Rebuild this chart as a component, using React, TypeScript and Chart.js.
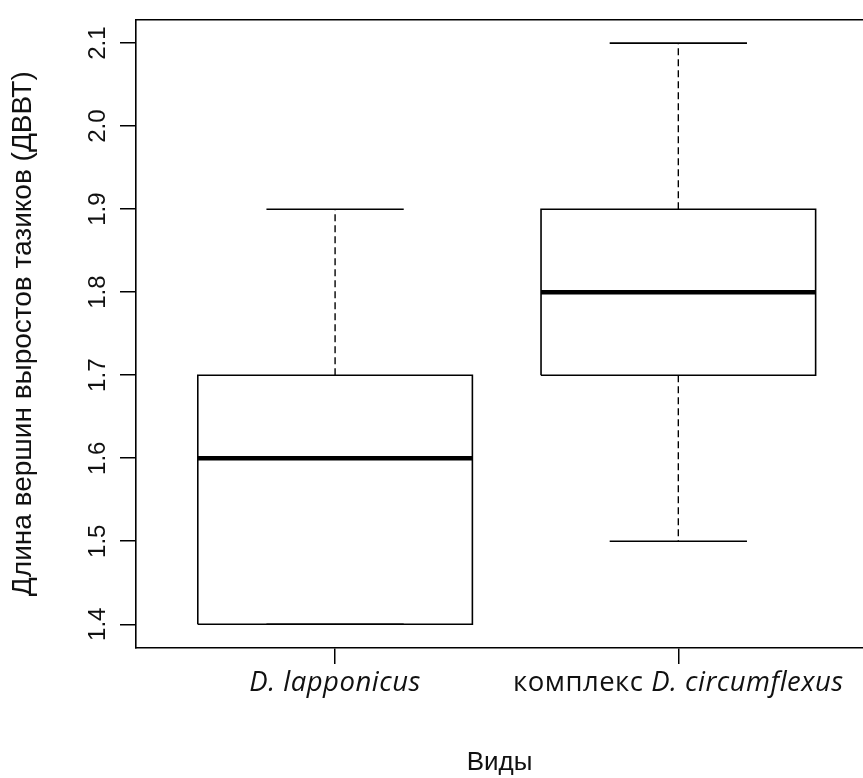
import React, { useEffect, useRef } from "react";
import { Chart, registerables } from "chart.js";

Chart.register(...registerables);

// ---- data ----
const categories = ["D. lapponicus", "комплекс D. circumflexus"];
const whiskerLow = [1.4, 1.5];
const q1 = [1.4, 1.7];
const medians = [1.6, 1.8];
const q3 = [1.7, 1.9];
const whiskerHigh = [1.9, 2.1];
const yTicks = [1.4, 1.5, 1.6, 1.7, 1.8, 1.9, 2.0, 2.1];
const yTitle = "Длина вершин выростов тазиков (ДВВТ)";
const xTitle = "Виды";

// ---- style ----
const BOX_HALF = 0.4;
const STAPLE_HALF = 0.2;
const X_MIN = 0.42;
const X_MAX = 2.538;
const Y_MIN = 1.3714;
const Y_MAX = 2.1286;
const R_FONT = '"Liberation Sans", Arial, sans-serif';
const LABEL_FONT_FAMILY = "'Open Sans', Lato, sans-serif";
const LABEL_FONT_SIZE = 27.5;
const LABEL_SPACING = 0.5;

function buildDatasets() {
  const base = {
    showLine: true,
    pointRadius: 0,
    pointHoverRadius: 0,
    borderColor: "#000",
    backgroundColor: "#000",
    fill: false,
    tension: 0,
    borderJoinStyle: "miter" as const,
    borderCapStyle: "butt" as const,
  };
  const ds: any[] = [];
  categories.forEach((_, i) => {
    const x = i + 1;
    // box
    ds.push({
      ...base,
      borderWidth: 1.6,
      data: [
        { x: x - BOX_HALF, y: q1[i] },
        { x: x + BOX_HALF, y: q1[i] },
        { x: x + BOX_HALF, y: q3[i] },
        { x: x - BOX_HALF, y: q3[i] },
        { x: x - BOX_HALF, y: q1[i] },
      ],
    });
    // median
    ds.push({
      ...base,
      borderWidth: 4.5,
      data: [
        { x: x - BOX_HALF, y: medians[i] },
        { x: x + BOX_HALF, y: medians[i] },
      ],
    });
    // whiskers (dashed)
    ds.push({
      ...base,
      borderWidth: 1.4,
      borderDash: [7, 4],
      data: [
        { x, y: q3[i] },
        { x, y: whiskerHigh[i] },
      ],
    });
    ds.push({
      ...base,
      borderWidth: 1.4,
      borderDash: [7, 4],
      data: [
        { x, y: q1[i] },
        { x, y: whiskerLow[i] },
      ],
    });
    // staples
    ds.push({
      ...base,
      borderWidth: 1.6,
      data: [
        { x: x - STAPLE_HALF, y: whiskerHigh[i] },
        { x: x + STAPLE_HALF, y: whiskerHigh[i] },
      ],
    });
    ds.push({
      ...base,
      borderWidth: 1.6,
      data: [
        { x: x - STAPLE_HALF, y: whiskerLow[i] },
        { x: x + STAPLE_HALF, y: whiskerLow[i] },
      ],
    });
  });
  return ds;
}

const xLabelPlugin = {
  id: "mixedXLabels",
  afterDraw(chart: any) {
    const xs = chart.scales.x;
    const ctx = chart.ctx as any;
    ctx.save();
    ctx.fillStyle = "#111";
    ctx.textBaseline = "alphabetic";
    ctx.textAlign = "left";
    if ("letterSpacing" in ctx) ctx.letterSpacing = `${LABEL_SPACING}px`;
    const fontOf = (it: boolean) =>
      `${it ? "italic " : ""}${LABEL_FONT_SIZE}px ${LABEL_FONT_FAMILY}`;
    categories.forEach((label, i) => {
      const idx = label.indexOf("D.");
      const parts = [
        { t: label.slice(0, idx), it: false, w: 0 },
        { t: label.slice(idx), it: true, w: 0 },
      ].filter((p) => p.t.length > 0);
      let total = 0;
      parts.forEach((p) => {
        ctx.font = fontOf(p.it);
        p.w = ctx.measureText(p.t).width;
        total += p.w;
      });
      let x = xs.getPixelForValue(i + 1) - total / 2;
      const y = xs.top + 43;
      parts.forEach((p) => {
        ctx.font = fontOf(p.it);
        ctx.fillText(p.t, x, y);
        x += p.w;
      });
    });
    ctx.restore();
  },
};

export default function App() {
  const canvasRef = useRef<HTMLCanvasElement | null>(null);

  useEffect(() => {
    if (!canvasRef.current) return;
    const chart = new Chart(canvasRef.current, {
      type: "scatter",
      data: { datasets: buildDatasets() },
      plugins: [xLabelPlugin],
      options: {
        animation: false,
        responsive: false,
        devicePixelRatio: 1,
        events: [],
        layout: { padding: 0 },
        plugins: {
          legend: { display: false },
          tooltip: { enabled: false },
        },
        scales: {
          x: {
            type: "linear",
            position: "bottom",
            min: X_MIN,
            max: X_MAX,
            bounds: "data",
            afterBuildTicks: (s: any) => {
              s.ticks = categories.map((_, i) => ({ value: i + 1 }));
            },
            afterFit: (s: any) => {
              s.height = 130;
            },
            ticks: { display: false },
            grid: {
              drawOnChartArea: false,
              drawTicks: true,
              tickLength: 16,
              color: "#000",
              lineWidth: 1.5,
            },
            border: { display: true, color: "#000", width: 1.6 },
            title: {
              display: true,
              text: xTitle,
              color: "#111",
              font: { family: R_FONT, size: 26 },
              padding: { top: 0, bottom: 0 },
            },
          },
          x2: {
            type: "linear",
            position: "top",
            min: X_MIN,
            max: X_MAX,
            afterFit: (s: any) => {
              s.height = 10;
            },
            ticks: { display: false },
            grid: { display: false },
            border: { display: true, color: "#000", width: 1.6 },
          },
          y: {
            type: "linear",
            position: "left",
            min: Y_MIN,
            max: Y_MAX,
            bounds: "data",
            afterBuildTicks: (s: any) => {
              s.ticks = yTicks.map((v) => ({ value: v }));
            },
            afterFit: (s: any) => {
              s.width = 136;
            },
            ticks: {
              autoSkip: false,
              minRotation: 90,
              maxRotation: 90,
              crossAlign: "center",
              padding: 5,
              color: "#111",
              font: { family: R_FONT, size: 24 },
              callback: (v: any) => Number(v).toFixed(1),
            },
            grid: {
              drawOnChartArea: false,
              drawTicks: true,
              tickLength: 16,
              color: "#000",
              lineWidth: 1.5,
            },
            border: { display: true, color: "#000", width: 1.6 },
            title: {
              display: true,
              text: yTitle,
              color: "#111",
              font: { family: R_FONT, size: 28 },
              padding: { top: 6, bottom: 0 },
            },
          },
        },
      } as any,
    });
    return () => chart.destroy();
  }, []);

  return (
    <div
      style={{
        position: "fixed",
        left: 0,
        top: 0,
        width: 863,
        height: 778,
        background: "#fff",
        overflow: "hidden",
      }}
    >
      <canvas
        ref={canvasRef}
        width={863}
        height={778}
        style={{ display: "block", width: 863, height: 778 }}
      />
    </div>
  );
}
